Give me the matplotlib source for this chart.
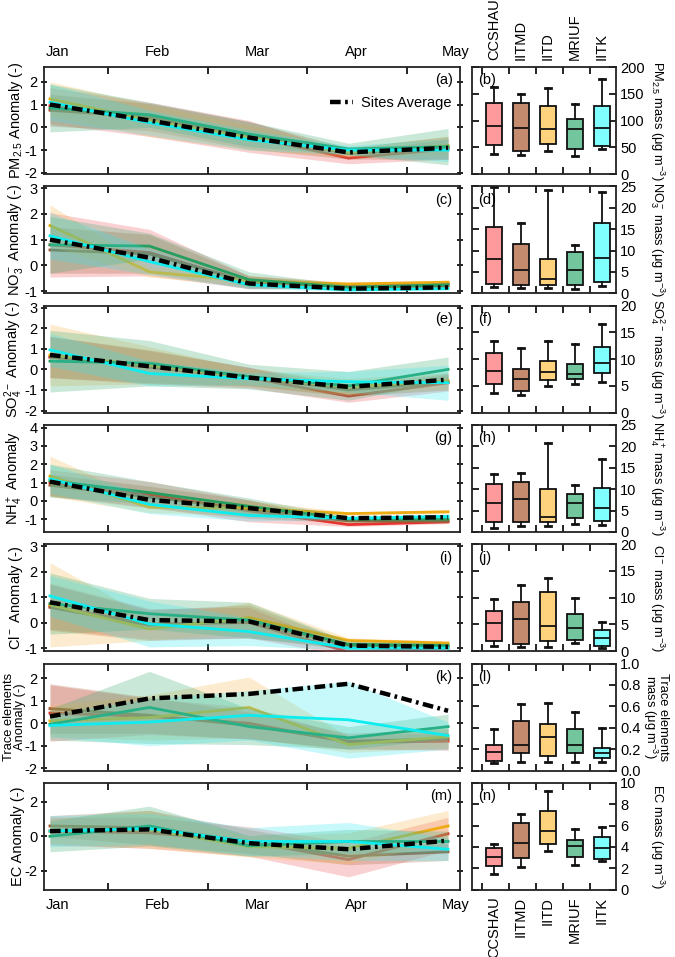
import matplotlib
matplotlib.use('Agg')
import matplotlib.pyplot as plt
import numpy as np

plt.rcParams['font.family'] = ['Liberation Sans', 'DejaVu Sans']
plt.rcParams['mathtext.fontset'] = 'custom'
plt.rcParams['mathtext.rm'] = 'Liberation Sans'
plt.rcParams['mathtext.it'] = 'Liberation Sans:italic'
plt.rcParams['mathtext.default'] = 'regular'
plt.rcParams['axes.unicode_minus'] = False
plt.rcParams['font.size'] = 10

# ---------------- data ----------------
MONTHS = ['Jan', 'Feb', 'Mar', 'Apr', 'May']
SITES = ['CCSHAU', 'IITMD', 'IITD', 'MRIUF', 'IITK']

# anomaly means per site (rows: CCSHAU, IITMD, IITD, MRIUF, IITK) and spread (half band width)
PM25_MEAN = [[0.95, 0.35, -0.40, -1.35, -0.95],
             [0.75, 0.45, -0.35, -1.15, -0.90],
             [1.25, 0.30, -0.45, -1.10, -0.80],
             [0.85, 0.55, -0.30, -0.95, -0.85],
             [1.10, 0.20, -0.55, -1.00, -1.00]]
PM25_SD = [[0.80, 0.75, 0.70, 0.25, 0.45],
           [0.70, 0.60, 0.60, 0.25, 0.50],
           [0.75, 0.70, 0.55, 0.20, 0.40],
           [1.05, 0.55, 0.55, 0.25, 0.80],
           [0.80, 0.55, 0.45, 0.20, 0.50]]
PM25_AVG = [1.00, 0.30, -0.45, -1.10, -0.90]

NO3_MEAN = [[0.80, 0.50, -0.65, -0.75, -0.72],
            [0.60, 0.45, -0.65, -0.82, -0.80],
            [1.55, -0.25, -0.60, -0.72, -0.65],
            [0.80, 0.75, -0.55, -0.85, -0.75],
            [1.15, 0.15, -0.75, -0.95, -0.90]]
NO3_SD = [[1.25, 0.90, 0.25, 0.08, 0.10],
          [0.90, 0.75, 0.25, 0.08, 0.10],
          [0.80, 0.20, 0.20, 0.08, 0.08],
          [1.10, 0.50, 0.30, 0.10, 0.10],
          [0.90, 0.50, 0.15, 0.05, 0.05]]
NO3_AVG = [1.00, 0.30, -0.70, -0.90, -0.85]

SO4_MEAN = [[0.60, 0.10, -0.40, -1.30, -0.65],
            [0.60, 0.15, -0.35, -1.00, -0.60],
            [0.70, 0.20, -0.40, -0.85, -0.55],
            [0.40, 0.30, -0.35, -0.80, 0.00],
            [0.95, -0.20, -0.45, -0.60, -0.65]]
SO4_SD = [[1.00, 0.80, 0.50, 0.30, 0.40],
          [1.00, 0.80, 0.45, 0.30, 0.40],
          [1.50, 0.90, 0.40, 0.40, 0.40],
          [1.50, 1.10, 0.60, 0.70, 0.60],
          [0.80, 0.60, 0.30, 0.50, 0.85]]
SO4_AVG = [0.70, 0.15, -0.40, -0.85, -0.50]

NH4_MEAN = [[1.00, 0.35, -0.55, -1.30, -1.15],
            [0.85, 0.20, -0.45, -1.10, -1.10],
            [1.35, -0.35, -0.40, -0.70, -0.60],
            [1.10, 0.45, -0.30, -1.00, -1.00],
            [1.20, -0.20, -0.80, -0.95, -0.85]]
NH4_SD = [[0.70, 0.70, 0.60, 0.10, 0.10],
          [0.60, 0.60, 0.50, 0.10, 0.10],
          [1.10, 0.30, 0.40, 0.10, 0.10],
          [0.90, 0.60, 0.45, 0.15, 0.15],
          [0.80, 0.50, 0.30, 0.08, 0.10]]
NH4_AVG = [1.05, 0.05, -0.40, -0.95, -0.90]

CL_MEAN = [[0.65, -0.05, 0.00, -1.15, -1.00],
           [0.60, -0.10, 0.05, -0.90, -0.90],
           [0.70, -0.25, 0.20, -0.70, -0.80],
           [0.75, 0.35, 0.10, -0.85, -0.90],
           [1.05, -0.05, -0.35, -1.00, -1.00]]
CL_SD = [[0.90, 0.60, 0.60, 0.15, 0.10],
         [0.90, 0.60, 0.65, 0.15, 0.10],
         [1.65, 0.45, 0.60, 0.10, 0.08],
         [1.20, 0.60, 0.70, 0.12, 0.10],
         [0.80, 0.90, 0.55, 0.08, 0.08]]
CL_AVG = [0.80, 0.10, 0.05, -0.90, -0.95]

TE_MEAN = [[0.45, 0.30, 0.00, -0.85, -0.80],
           [0.65, 0.35, -0.10, -0.80, -0.70],
           [0.10, 0.25, 0.70, -0.95, -0.60],
           [-0.05, 0.70, -0.15, -0.65, -0.15],
           [-0.10, 0.05, 0.35, 0.15, -0.55]]
TE_SD = [[1.25, 0.80, 0.70, 0.30, 0.40],
         [1.10, 0.80, 0.60, 0.35, 0.45],
         [0.70, 1.00, 1.35, 0.35, 0.50],
         [0.70, 1.60, 0.80, 0.50, 0.55],
         [0.50, 1.05, 1.10, 1.70, 0.60]]
TE_AVG = [0.30, 1.10, 1.30, 1.75, 0.55]

EC_MEAN = [[0.30, 0.20, -0.30, -1.35, 0.15],
           [0.60, 0.50, -0.30, -1.15, -0.90],
           [0.30, 0.40, -0.60, -0.70, 0.60],
           [0.00, 0.60, -0.55, -0.30, -0.30],
           [0.30, 0.45, -0.30, -0.30, -0.75]]
EC_SD = [[0.80, 0.90, 0.85, 1.00, 0.95],
         [0.60, 1.00, 0.70, 0.50, 0.50],
         [0.70, 1.10, 0.60, 0.90, 0.90],
         [0.90, 1.15, 0.60, 0.70, 0.60],
         [0.90, 0.90, 0.80, 1.10, 0.65]]
EC_AVG = [0.30, 0.40, -0.40, -0.75, -0.25]

# box statistics per site: [whisker low, q1, median, q3, whisker high]
PM25_BOX = [[37, 55, 89, 133, 163], [35, 43, 86, 132, 149], [43, 57, 84, 128, 161],
            [33, 46, 84, 102, 131], [46, 52, 86, 128, 177]]
NO3_BOX = [[1.4, 2.2, 8.0, 15.6, 24.8], [1.2, 1.9, 5.5, 11.6, 16.4], [1.2, 1.9, 3.4, 8.1, 24.1],
           [1.0, 1.9, 5.5, 9.6, 11.2], [1.7, 2.7, 8.3, 16.5, 23.6]]
SO4_BOX = [[3.6, 5.4, 7.8, 11.2, 13.4], [3.2, 4.1, 6.3, 8.2, 12.0], [4.9, 6.1, 7.6, 9.6, 13.4],
           [5.4, 6.3, 7.3, 9.1, 12.8], [5.8, 7.4, 9.2, 12.2, 16.6]]
NH4_BOX = [[1.0, 2.4, 6.7, 11.3, 13.5], [1.4, 2.2, 7.6, 11.7, 13.7], [1.4, 2.2, 3.5, 10.0, 20.7],
           [1.8, 3.3, 6.7, 8.8, 10.9], [1.6, 2.6, 5.5, 10.2, 17.0]]
CL_BOX = [[1.0, 2.0, 5.2, 7.6, 9.7], [0.8, 1.3, 6.0, 9.2, 12.4], [0.8, 1.9, 4.7, 11.0, 13.7],
          [1.5, 2.1, 4.4, 7.0, 10.0], [0.6, 1.0, 2.4, 3.9, 5.5]]
TE_BOX = [[0.07, 0.09, 0.17, 0.24, 0.39], [0.08, 0.16, 0.24, 0.46, 0.62], [0.08, 0.14, 0.31, 0.43, 0.63],
          [0.08, 0.16, 0.24, 0.39, 0.55], [0.08, 0.12, 0.16, 0.21, 0.40]]
EC_BOX = [[1.5, 2.2, 3.1, 3.9, 4.3], [2.1, 3.0, 4.4, 6.2, 7.1], [3.6, 4.3, 5.5, 7.4, 9.2],
          [2.3, 3.1, 4.1, 4.7, 5.7], [2.7, 2.9, 3.9, 4.9, 5.9]]

# ---------------- style ----------------
LINE_COLORS = ['#E8241C', '#A0522D', '#EBA800', '#1E9A5A', '#00F0F0']
FILL_COLORS = ['#F0575A', '#A8633C', '#F7B64A', '#3AAA72', '#33E6F0']
BOX_COLORS = ['#FF9A9C', '#C48B6E', '#FFD27D', '#72C59C', '#80FFFF']

panels = [
    dict(mean=PM25_MEAN, sd=PM25_SD, avg=PM25_AVG, box=PM25_BOX, ylim=(-2.05, 2.65), yt=[-2, -1, 0, 1, 2],
         ylab='PM$_{2.5}$ Anomaly (-)', blim=(0, 200), bt=[0, 50, 100, 150, 200],
         blab='PM$_{2.5}$ mass (μg m$^{-3}$)', la='(a)', lb='(b)'),
    dict(mean=NO3_MEAN, sd=NO3_SD, avg=NO3_AVG, box=NO3_BOX, ylim=(-1.08, 3.07), yt=[-1, 0, 1, 2, 3],
         ylab='NO$_3^-$ Anomaly (-)', blim=(0, 25), bt=[0, 5, 10, 15, 20, 25],
         blab='NO$_3^-$ mass (μg m$^{-3}$)', la='(c)', lb='(d)'),
    dict(mean=SO4_MEAN, sd=SO4_SD, avg=SO4_AVG, box=SO4_BOX, ylim=(-2.1, 3.1), yt=[-2, -1, 0, 1, 2, 3],
         ylab='SO$_4^{2-}$ Anomaly (-)', blim=(0, 20), bt=[0, 5, 10, 15, 20],
         blab='SO$_4^{2-}$ mass (μg m$^{-3}$)', la='(e)', lb='(f)'),
    dict(mean=NH4_MEAN, sd=NH4_SD, avg=NH4_AVG, box=NH4_BOX, ylim=(-1.7, 4.15), yt=[-1, 0, 1, 2, 3, 4],
         ylab='NH$_4^+$ Anomaly', blim=(0, 25), bt=[0, 5, 10, 15, 20, 25],
         blab='NH$_4^+$ mass (μg m$^{-3}$)', la='(g)', lb='(h)'),
    dict(mean=CL_MEAN, sd=CL_SD, avg=CL_AVG, box=CL_BOX, ylim=(-1.12, 3.08), yt=[-1, 0, 1, 2, 3],
         ylab='Cl$^-$ Anomaly (-)', blim=(0, 20), bt=[0, 5, 10, 15, 20],
         blab='Cl$^-$ mass (μg m$^{-3}$)', la='(i)', lb='(j)'),
    dict(mean=TE_MEAN, sd=TE_SD, avg=TE_AVG, box=TE_BOX, ylim=(-2.1, 2.65), yt=[-2, -1, 0, 1, 2],
         ylab='Trace elements\nAnomaly (-)', blim=(0, 1.0), bt=[0.0, 0.2, 0.4, 0.6, 0.8, 1.0],
         blab='Trace elements\nmass (μg m$^{-3}$)', la='(k)', lb='(l)'),
    dict(mean=EC_MEAN, sd=EC_SD, avg=EC_AVG, box=EC_BOX, ylim=(-3.1, 3.1), yt=[-2, 0, 2],
         ylab='EC Anomaly (-)', blim=(0, 10), bt=[0, 2, 4, 6, 8, 10],
         blab='EC mass (μg m$^{-3}$)', la='(m)', lb='(n)'),
]

W, H = 675, 957
fig = plt.figure(figsize=(W / 100, H / 100), dpi=100)


def rect(x0, x1, top, h):
    return [x0 / W, 1 - (top + h) / H, (x1 - x0) / W, h / H]


x = np.arange(len(MONTHS))
n = len(panels)
FS = 10.5
for i, p in enumerate(panels):
    top = 67 + i * 119.3
    ax = fig.add_axes(rect(44, 460, top, 107))
    bx = fig.add_axes(rect(472, 616, top, 107))
    two_line = '\n' in p['ylab']

    # ---- anomaly time series ----
    for s in range(len(SITES)):
        m = np.array(p['mean'][s])
        sd = np.array(p['sd'][s])
        ax.plot(x, m, color=LINE_COLORS[s], lw=2, zorder=2 + s * 2)
        ax.fill_between(x, m - sd, m + sd, color=FILL_COLORS[s], alpha=0.27, lw=0, zorder=3 + s * 2)
    avg_line, = ax.plot(x, p['avg'], color='black', lw=3.2, ls=(0, (2.4, 1.0, 0.6, 1.0)), zorder=20,
                        label='Sites Average')
    ax.set_xlim(-0.06, 4.12)
    ax.set_ylim(*p['ylim'])
    ax.set_yticks(p['yt'])
    ax.set_xticks(x + 0.08)
    ax.set_xticks(x[:-1] + 0.585, minor=True)
    ax.tick_params(axis='x', which='major', length=0, pad=6,
                   labelbottom=(i == n - 1), labeltop=(i == 0), labelsize=FS)
    ax.tick_params(axis='x', which='minor', direction='in', length=5, width=1.2, top=True, bottom=True)
    ax.tick_params(axis='y', direction='inout', length=5, width=1.2, right=True, labelsize=FS, pad=2)
    if i == 0 or i == n - 1:
        ax.set_xticklabels(MONTHS)
    else:
        ax.set_xticklabels([])
    ax.set_ylabel(p['ylab'], fontsize=9.3 if two_line else FS, linespacing=0.85)
    ax.yaxis.set_label_coords(-0.044 if two_line else -0.046, 0.5)
    ax.text(0.982, 0.94, p['la'], transform=ax.transAxes, ha='right', va='top', fontsize=FS)
    if i == 0:
        ax.legend(handles=[avg_line], loc='upper right', bbox_to_anchor=(1.0, 0.81), frameon=False,
                  fontsize=FS, handlelength=1.6, handletextpad=0.5, borderaxespad=0.2)
    for sp in ax.spines.values():
        sp.set_linewidth(1.3)
        sp.set_color('#222222')

    # ---- box plots ----
    stats = []
    for s, b in enumerate(p['box']):
        stats.append(dict(whislo=b[0], q1=b[1], med=b[2], q3=b[3], whishi=b[4], label=SITES[s]))
    bp = bx.bxp(stats, positions=range(len(SITES)), widths=0.62, patch_artist=True, showfliers=False,
                capwidths=0.22,
                boxprops=dict(linewidth=1.3, edgecolor='#111111'),
                medianprops=dict(color='#111111', linewidth=1.3),
                whiskerprops=dict(color='#111111', linewidth=1.3),
                capprops=dict(color='#111111', linewidth=2.0))
    for patch, c in zip(bp['boxes'], BOX_COLORS):
        patch.set_facecolor(c)
    bx.set_xlim(-0.81, 4.52)
    bx.set_ylim(*p['blim'])
    bx.set_yticks(p['bt'])
    if p['blim'][1] == 1.0:
        bx.set_yticklabels(['%.1f' % v for v in p['bt']])
    bx.set_xticks(range(len(SITES)))
    bx.set_xticks(np.arange(len(SITES)) - 0.45, minor=True)
    bx.tick_params(axis='x', which='major', length=0, rotation=90, labelsize=FS, pad=5,
                   labelbottom=(i == n - 1), labeltop=(i == 0))
    if i == 0 or i == n - 1:
        bx.set_xticklabels(SITES)
    else:
        bx.set_xticklabels([])
    bx.tick_params(axis='x', which='minor', direction='in', length=5, width=1.2, top=True, bottom=True)
    bx.tick_params(axis='y', direction='in', length=5, width=1.2, left=True, right=True,
                   labelleft=False, labelright=True, labelsize=FS, pad=3)
    bx.yaxis.set_label_position('right')
    bx.set_ylabel(p['blab'], rotation=270, fontsize=9.3, linespacing=0.85, va='bottom')
    bx.yaxis.set_label_coords(1.175 if two_line else 1.225, 0.5)
    bx.text(0.04, 0.94, p['lb'], transform=bx.transAxes, ha='left', va='top', fontsize=FS)
    for sp in bx.spines.values():
        sp.set_linewidth(1.3)
        sp.set_color('#222222')

fig.savefig('out.png', dpi=100)
